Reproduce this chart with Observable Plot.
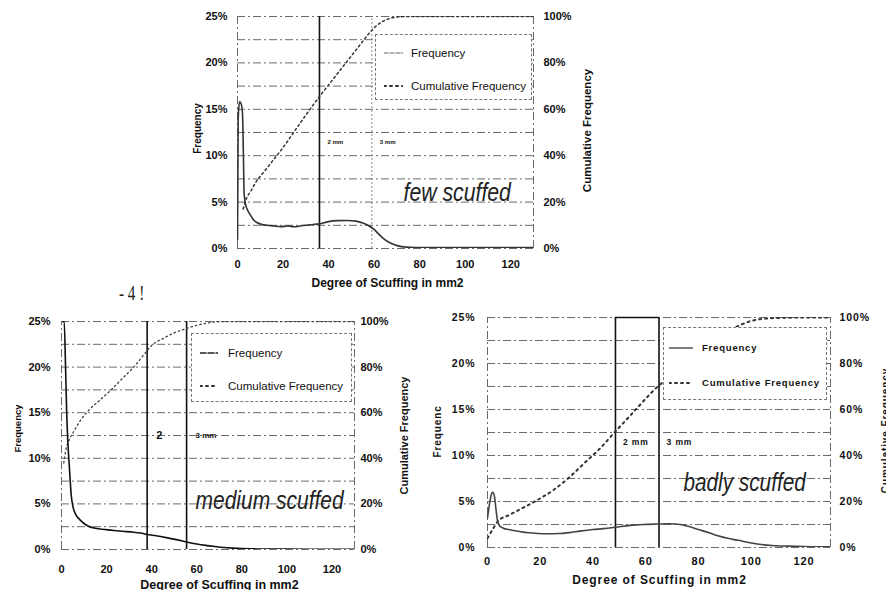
<!DOCTYPE html>
<html><head><meta charset="utf-8">
<script src="https://cdn.jsdelivr.net/npm/d3@7"></script>
<script src="https://cdn.jsdelivr.net/npm/@observablehq/plot@0.6"></script>
<style>
html,body{margin:0;padding:0;background:#fff;}
#page{position:relative;width:886px;height:590px;overflow:hidden;background:#fff;font-family:"Liberation Sans",Arial,sans-serif;color:#111;}
.panel{position:absolute;}
.legend{position:absolute;background:#fff;border:1px dashed #777;box-sizing:border-box;}
.legend .row{position:absolute;left:0;right:0;height:16px;}
.legend svg{position:absolute;top:0;}
.legend span{position:absolute;top:0;line-height:16px;white-space:nowrap;}
#mark{position:absolute;left:119px;top:281px;font-family:"Liberation Serif","DejaVu Serif",serif;font-size:21px;transform:scaleX(0.72);transform-origin:left top;color:#222;white-space:pre;}
</style></head>
<body><div id="page"></div>
<script>
// ---------- shared ticks / labels ----------
const xTicks = [0, 20, 40, 60, 80, 100, 120];
const freqTicks = [0, 5, 10, 15, 20, 25];
const gridLevels = [0, 2.5, 5, 7.5, 10, 12.5, 15, 17.5, 20, 22.5, 25];
const xFrame = [0, 130];
const legendLabels = ["Frequency", "Cumulative Frequency"];
const xAxisLabel = "Degree of Scuffing in mm2";

// ---------- few scuffed ----------
const fewFreqX = [0, 0.3, 0.9, 1.6, 2.2, 2.6, 2.9, 3.5, 4.5, 5.7, 7, 8.5, 10.5, 13, 16, 19, 22, 25, 28, 32, 36, 40, 44, 48, 52, 55, 58, 60, 62, 64, 66.5, 69, 72, 76, 80, 90, 100, 110, 120, 130];
const fewFreq  = [1, 14, 15.8, 15.6, 14.5, 10, 6, 4.8, 4.1, 3.6, 3.1, 2.8, 2.6, 2.5, 2.42, 2.35, 2.42, 2.35, 2.45, 2.55, 2.66, 2.9, 3.0, 3.02, 2.95, 2.75, 2.4, 2.05, 1.55, 1.1, 0.68, 0.4, 0.2, 0.12, 0.1, 0.1, 0.1, 0.1, 0.1, 0.1];
const fewCumX  = [2.5, 3.5, 6, 8, 12, 16, 20, 25, 30, 36, 42, 48, 54, 58, 61, 64, 67, 70, 75, 80, 100, 130];
const fewCum   = [17, 20.5, 25, 28.5, 33.5, 38.5, 43.5, 50.5, 57.5, 65.5, 73, 80.5, 88, 93, 96, 98, 99.2, 99.8, 100, 100, 100, 100];
const fewThresholds = [36, 59];
const fewThresholdLabels = ["2 mm", "3 mm"];

// ---------- medium scuffed ----------
const medFreqX = [0.5, 1.2, 1.8, 2.3, 2.7, 3.1, 3.5, 3.9, 4.3, 5, 6.3, 8, 10, 12, 14.5, 18, 22, 27, 32, 35, 38, 42, 46.5, 51, 55.5, 60, 64, 68, 72, 76, 80, 85, 90, 100, 110, 120, 130];
const medFreq  = [25, 25, 20, 15, 12.4, 10.5, 9, 7.4, 6, 4.8, 3.85, 3.3, 2.85, 2.55, 2.35, 2.22, 2.12, 2.0, 1.9, 1.8, 1.65, 1.5, 1.3, 1.08, 0.82, 0.6, 0.45, 0.33, 0.22, 0.15, 0.1, 0.07, 0.05, 0.04, 0.03, 0.03, 0.03];
const medCumX  = [1, 2, 3.4, 5.6, 8, 12, 17, 22, 27, 32, 37, 40, 45, 50, 55, 60, 65, 70, 80, 100, 130];
const medCum   = [38, 44, 48, 52, 56, 61, 65.5, 70, 75, 80, 86, 89.5, 92.5, 95, 96.8, 98.3, 99.4, 99.9, 100, 100, 100];
const medThresholds = [38, 55.5];
const medThresholdLabels = ["2", "3 mm"];

// ---------- badly scuffed ----------
const badFreqX = [0, 0.8, 1.5, 2, 2.6, 3.2, 3.8, 4.5, 6, 8, 10, 13, 16, 19, 23, 27, 31, 35, 40, 44, 48.5, 54, 59, 64, 69, 73, 76, 80, 84, 87, 91, 95, 99, 103, 108, 114, 120, 125, 130];
const badFreq  = [3.2, 4.8, 5.8, 6.0, 5.6, 4.2, 2.9, 2.4, 2.1, 1.95, 1.85, 1.7, 1.6, 1.52, 1.5, 1.52, 1.62, 1.78, 1.95, 2.05, 2.2, 2.4, 2.5, 2.55, 2.58, 2.5, 2.3, 1.95, 1.6, 1.3, 1.0, 0.78, 0.55, 0.35, 0.22, 0.15, 0.1, 0.08, 0.07];
const badCumX  = [0, 2, 4.2, 8, 13, 18.7, 25, 31, 37, 43, 48.5, 53, 57, 61, 65, 70, 75, 80, 85, 90, 95, 100, 105, 110, 120, 130];
const badCum   = [4, 8, 11.7, 14, 17, 20.5, 25, 30.5, 37, 43.5, 50.5, 56, 61, 66, 70.5, 75, 80, 85, 89, 93, 96.3, 98.5, 99.5, 99.8, 100, 100];
const badThresholds = [48.5, 65];
const badThresholdLabels = ["2 mm", "3 mm"];

const SANS = '"Liberation Sans", Arial, Helvetica, sans-serif';
const NARROW = '"Liberation Sans Narrow", "Arial Narrow", "Liberation Sans", Arial, sans-serif';

function makePanel(c) {
  const freqData = c.freqX.map((x, i) => ({x, y: c.freq[i]}));
  const cumData = c.cumX.map((x, i) => ({x, y: c.cum[i] / 4}));
  const solidT = c.thresholds.filter((d, i) => !c.dottedIdx.includes(i));
  const dottedT = c.thresholds.filter((d, i) => c.dottedIdx.includes(i));
  const top = freqTicks[freqTicks.length - 1];
  const grid = {stroke: "#6a6a6a", strokeWidth: 1, strokeDasharray: "8 3 2 3"};
  const marks = [
    Plot.ruleY(gridLevels, grid),
    Plot.ruleX(xFrame, {...grid, y1: freqTicks[0], y2: top}),
    Plot.ruleX(solidT, {stroke: "#111", strokeWidth: 1.6, y1: freqTicks[0], y2: top}),
    Plot.ruleX(dottedT, {stroke: "#888", strokeWidth: 1, strokeDasharray: "2 2", y1: freqTicks[0], y2: top}),
  ];
  if (c.boxTop) marks.push(Plot.ruleY([top], {x1: c.thresholds[0], x2: c.thresholds[1], stroke: "#111", strokeWidth: 1.6}));
  marks.push(
    Plot.line(cumData, {x: "x", y: "y", curve: "monotone-x", stroke: c.cumStroke, strokeWidth: c.cumWidth, strokeDasharray: c.cumDash, strokeLinecap: "round", clip: true}),
    Plot.line(freqData, {x: "x", y: "y", curve: "monotone-x", stroke: c.freqStroke, strokeWidth: c.freqWidth, clip: true}),
    Plot.axisY(freqTicks, {anchor: "left", tickSize: 0, tickPadding: c.lpad, tickFormat: d => d + "%", label: null, fontSize: c.tickFont}),
    Plot.axisY(freqTicks, {anchor: "right", tickSize: 0, tickPadding: c.rpad, tickFormat: d => d * 4 + "%", label: null, fontSize: c.tickFont}),
    Plot.axisX(xTicks, {anchor: "bottom", tickSize: 0, tickPadding: c.xpad, label: null, fontSize: c.xTickFont}),
    Plot.text([c.yLabel], {frameAnchor: "left", rotate: -90, dx: c.yDx, dy: c.yDy, textAnchor: "middle", lineAnchor: "top", fontSize: c.yFont}),
    Plot.text([legendLabels[1]], {frameAnchor: "right", rotate: -90, dx: c.cDx, dy: c.cDy, textAnchor: "middle", lineAnchor: "top", fontSize: c.cFont}),
    Plot.text([xAxisLabel], {frameAnchor: "bottom", dx: c.xlDx, dy: c.xlDy, lineAnchor: "middle", fontSize: c.xlFont}),
    Plot.text(c.thresholds, {x: d => d, frameAnchor: "top", dx: c.thrDx, dy: c.thrDy, text: (d, i) => c.thrLabels[i], textAnchor: "start", lineAnchor: "middle", fontSize: (d, i) => c.thrFont[i]}),
    Plot.text([c.title], {frameAnchor: "top-left", dx: c.tDx, dy: c.tDy, textAnchor: "start", lineAnchor: "middle", fontStyle: "italic", fontWeight: "normal", fontFamily: NARROW, fontSize: c.tFont, fill: "#222"})
  );
  return Plot.plot({
    width: c.width, height: c.height,
    marginLeft: c.ml, marginRight: c.mr, marginTop: c.mt, marginBottom: c.mb,
    x: {domain: xFrame}, y: {domain: [freqTicks[0], top]},
    style: {fontFamily: SANS, fontWeight: "bold", background: "transparent", color: "#111", overflow: "visible", letterSpacing: c.ls},
    marks
  });
}

// condense the italic panel title (no narrow face installed)
function condenseTitle(svg, c) {
  svg.querySelectorAll("text").forEach(t => {
    if (t.textContent !== c.title) return;
    t.style.letterSpacing = "0px";
    const tr = t.getAttribute("transform");
    if (tr) {
      t.setAttribute("transform", tr + " scale(" + c.squeeze + ",1)");
    } else {
      const x = +(t.getAttribute("x") || 0), y = +(t.getAttribute("y") || 0);
      t.removeAttribute("x"); t.removeAttribute("y");
      t.setAttribute("transform", `translate(${x},${y}) scale(${c.squeeze},1)`);
    }
  });
}

function addLegend(page, c) {
  const L = document.createElement("div");
  L.className = "legend";
  Object.assign(L.style, {left: c.lg.left + "px", top: c.lg.top + "px", width: c.lg.w + "px", height: c.lg.h + "px"});
  const styles = [
    {dash: c.lg.fDash, color: c.lg.fColor, width: 1.6},
    {dash: "2 4", color: "#333", width: 2}
  ];
  legendLabels.forEach((lab, i) => {
    const row = document.createElement("div");
    row.className = "row";
    row.style.top = (c.lg.rows[i] - 8) + "px";
    const s = styles[i];
    row.innerHTML = `<svg width="${c.lg.sw}" height="16" style="left:${c.lg.sx}px"><line x1="0" x2="${c.lg.sw}" y1="8" y2="8" stroke="${s.color}" stroke-width="${s.width}" ${s.dash ? `stroke-dasharray="${s.dash}"` : ""} stroke-linecap="round"/></svg>` +
      `<span style="left:${c.lg.tx}px;font-size:${c.lg.font}px;font-weight:${c.lg.weight};letter-spacing:${c.lg.ls}px">${lab}</span>`;
    L.appendChild(row);
  });
  page.appendChild(L);
}

const page = document.getElementById("page");
const panels = [
  {pos: [170, 0], width: 430, height: 295, ml: 67, mr: 67, mt: 16, mb: 47,
   freqX: fewFreqX, freq: fewFreq, cumX: fewCumX, cum: fewCum,
   thresholds: fewThresholds, thrLabels: fewThresholdLabels, dottedIdx: [1], thrDx: 8, thrDy: 126, thrFont: [6, 6],
   freqStroke: "#333", freqWidth: 1.6, cumStroke: "#333", cumWidth: 1.5, cumDash: "2 3",
   lpad: 10, rpad: 10, xpad: 12, tickFont: 11, xTickFont: 11, ls: "0px",
   yLabel: "Frequency", yDx: -44, yDy: -4, yFont: 10, cDx: 49, cDy: -2, cFont: 11.5,
   xlDx: 2, xlDy: 35, xlFont: 12,
   title: "few scuffed", tDx: 166, tDy: 176, tFont: 25, squeeze: 0.85,
   lg: {left: 375, top: 34, w: 157, h: 66, rows: [18, 51], sx: 8, sw: 19, tx: 35, font: 11.5, weight: "normal", ls: 0, fDash: "4 2", fColor: "#9a9a9a"}},
  {pos: [0, 300], width: 420, height: 290, ml: 61, mr: 66, mt: 21, mb: 41,
   freqX: medFreqX, freq: medFreq, cumX: medCumX, cum: medCum,
   thresholds: medThresholds, thrLabels: medThresholdLabels, dottedIdx: [], thrDx: 9, thrDy: 114, thrFont: [11, 8],
   freqStroke: "#111", freqWidth: 1.6, cumStroke: "#444", cumWidth: 1.3, cumDash: "1.5 3",
   lpad: 11, rpad: 6, xpad: 16, tickFont: 11, xTickFont: 11, ls: "0px",
   yLabel: "Frequency", yDx: -47.5, yDy: -7, yFont: 9.5, cDx: 46, cDy: 0, cFont: 11,
   xlDx: 11.5, xlDy: 35, xlFont: 12.5,
   title: "medium scuffed", tDx: 134, tDy: 179, tFont: 25, squeeze: 0.84,
   lg: {left: 191, top: 333, w: 161, h: 69, rows: [19, 52], sx: 8, sw: 18, tx: 36, font: 11.5, weight: "normal", ls: 0, fDash: "6 2", fColor: "#222"}},
  {pos: [430, 295], width: 456, height: 295, ml: 57, mr: 56, mt: 22, mb: 43,
   freqX: badFreqX, freq: badFreq, cumX: badCumX, cum: badCum,
   thresholds: badThresholds, thrLabels: badThresholdLabels, dottedIdx: [], thrDx: 7.5, thrDy: 125, thrFont: [8.5, 8.5], boxTop: true,
   freqStroke: "#444", freqWidth: 1.6, cumStroke: "#333", cumWidth: 2, cumDash: "2 4",
   lpad: 12, rpad: 9, xpad: 10, tickFont: 10.5, xTickFont: 11, ls: "0.9px",
   yLabel: "Frequenc", yDx: -54, yDy: -1, yFont: 10, cDx: 51.5, cDy: -2, cFont: 10,
   xlDx: 0.5, xlDy: 33, xlFont: 12,
   title: "badly scuffed", tDx: 196, tDy: 165, tFont: 25, squeeze: 0.83,
   lg: {left: 663, top: 327, w: 164, h: 73, rows: [20, 55], sx: 5, sw: 24, tx: 38, font: 9.5, weight: "bold", ls: 0.8, fDash: null, fColor: "#555"}}
];

panels.forEach(c => {
  const wrap = document.createElement("div");
  wrap.className = "panel";
  wrap.style.left = c.pos[0] + "px";
  wrap.style.top = c.pos[1] + "px";
  const svg = makePanel(c);
  condenseTitle(svg, c);
  wrap.appendChild(svg);
  page.appendChild(wrap);
  addLegend(page, c);
});

const m = document.createElement("div");
m.id = "mark";
m.textContent = "- 4 !";
page.appendChild(m);
</script>
</body></html>
